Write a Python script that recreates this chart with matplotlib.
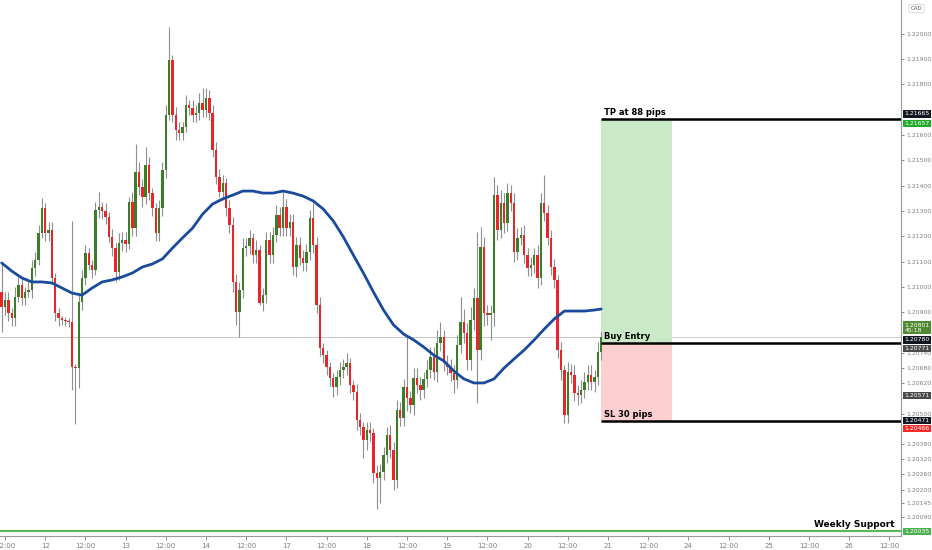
import numpy as np
import matplotlib
matplotlib.use("Agg")
import matplotlib.pyplot as plt
from matplotlib.patches import Rectangle

# hourly closes (first candle open = 1.20980)
first_open = 1.20980
closes = [
    1.20921, 1.20949, 1.20897, 1.20877, 1.20960, 1.21008, 1.20957, 1.20980, 1.20988, 1.21075,
    1.21107, 1.21213, 1.21312, 1.21213, 1.21225, 1.21036, 1.20897, 1.20877, 1.20870, 1.20866,
    1.20862, 1.20684, 1.20680, 1.20941, 1.21036, 1.21134, 1.21087, 1.21067, 1.21304, 1.21316,
    1.21300, 1.21277, 1.21198, 1.21154, 1.21059, 1.21174, 1.21186, 1.21170, 1.21336, 1.21233,
    1.21455, 1.21395, 1.21356, 1.21482, 1.21372, 1.21312, 1.21213, 1.21312, 1.21462, 1.21680,
    1.21897, 1.21680, 1.21621, 1.21609, 1.21632, 1.21719, 1.21708, 1.21680, 1.21688, 1.21727,
    1.21700, 1.21747, 1.21688, 1.21542, 1.21435, 1.21375, 1.21411, 1.21312, 1.21245, 1.21020,
    1.20901, 1.20988, 1.21154, 1.21162, 1.21194, 1.21126, 1.21146, 1.20937, 1.20968, 1.21186,
    1.21126, 1.21206, 1.21285, 1.21233, 1.21316, 1.21233, 1.21257, 1.21079, 1.21166, 1.21115,
    1.21095, 1.21138, 1.21273, 1.21166, 1.20929, 1.20759, 1.20731, 1.20684, 1.20640, 1.20605,
    1.20644, 1.20672, 1.20684, 1.20700, 1.20613, 1.20585, 1.20474, 1.20447, 1.20395, 1.20435,
    1.20423, 1.20265, 1.20245, 1.20269, 1.20336, 1.20415, 1.20356, 1.20237, 1.20514, 1.20482,
    1.20605, 1.20561, 1.20534, 1.20640, 1.20613, 1.20593, 1.20636, 1.20672, 1.20723, 1.20664,
    1.20779, 1.20802, 1.20700, 1.20684, 1.20660, 1.20632, 1.20771, 1.20862, 1.20818, 1.20711,
    1.20870, 1.20957, 1.20751, 1.21158, 1.20897, 1.20889, 1.20897, 1.21364, 1.21225, 1.21332,
    1.21253, 1.21372, 1.21332, 1.21138, 1.21194, 1.21206, 1.21126, 1.21075, 1.21087, 1.21126,
    1.21036, 1.21332, 1.21292, 1.21194, 1.21079, 1.21028, 1.20751, 1.20672, 1.20494, 1.20664,
    1.20652, 1.20581, 1.20573, 1.20593, 1.20625, 1.20652, 1.20625, 1.20644, 1.20743, 1.20801,
]
# wick lengths in pips above / below the body
upper_wick = [
    11, 3, 3, 2, 4, 3, 3, 2, 4, 3,
    3, 3, 4, 2, 3, 3, 2, 2, 1, 1,
    1, 40, 1, 3, 3, 3, 2, 2, 3, 6,
    2, 3, 2, 3, 2, 4, 3, 3, 2, 4,
    11, 4, 3, 7, 3, 2, 2, 3, 3, 4,
    13, 2, 3, 3, 2, 4, 2, 3, 3, 4,
    6, 4, 3, 3, 3, 3, 3, 2, 3, 3,
    3, 3, 4, 3, 3, 2, 4, 2, 3, 3,
    3, 3, 4, 3, 6, 3, 3, 3, 3, 3,
    3, 3, 3, 6, 3, 3, 2, 2, 2, 2,
    3, 3, 3, 4, 2, 2, 3, 3, 2, 3,
    3, 2, 3, 3, 3, 3, 4, 3, 4, 3,
    3, 20, 3, 4, 4, 3, 3, 4, 4, 4,
    5, 6, 3, 3, 3, 3, 4, 10, 5, 4,
    5, 4, 26, 8, 4, 3, 3, 7, 4, 5,
    4, 4, 3, 4, 4, 3, 4, 3, 3, 3,
    4, 4, 11, 3, 3, 3, 2, 3, 2, 4,
    3, 4, 3, 4, 4, 4, 4, 3, 4, 2,
]
lower_wick = [
    10, 3, 3, 3, 3, 2, 3, 3, 2, 3,
    3, 2, 2, 3, 3, 2, 3, 3, 2, 2,
    2, 9, 22, 8, 3, 3, 2, 3, 2, 3,
    3, 3, 2, 3, 4, 3, 3, 3, 2, 3,
    3, 3, 4, 3, 3, 3, 3, 3, 3, 3,
    2, 3, 4, 3, 3, 2, 3, 3, 3, 3,
    3, 3, 3, 3, 3, 2, 3, 3, 3, 4,
    5, 10, 3, 3, 3, 3, 3, 1, 3, 3,
    3, 3, 3, 3, 3, 3, 3, 3, 4, 3,
    3, 3, 3, 3, 3, 3, 3, 3, 3, 4,
    3, 3, 3, 3, 3, 3, 4, 3, 7, 4,
    3, 4, 12, 10, 3, 3, 3, 4, 3, 3,
    3, 5, 3, 4, 3, 4, 3, 3, 3, 3,
    4, 3, 3, 3, 3, 5, 3, 3, 4, 4,
    4, 4, 21, 4, 5, 4, 10, 5, 4, 3,
    4, 3, 3, 4, 3, 3, 3, 3, 3, 3,
    4, 3, 3, 3, 3, 3, 3, 4, 3, 3,
    3, 3, 4, 3, 3, 3, 3, 4, 3, 3,
]

# moving average, read every third candle
ma_candle = [0, 3, 6, 9, 12, 15, 18, 21, 24, 27, 30, 33, 36, 39, 42, 45, 48, 51, 54, 57,
             60, 63, 66, 69, 72, 75, 78, 81, 84, 87, 90, 93, 96, 99, 102, 105, 108, 111, 114, 117,
             120, 123, 126, 129, 132, 135, 138, 141, 144, 147, 150, 153, 156, 159, 162, 165, 168, 171, 174, 177, 179]
ma_values = [1.21095, 1.21063, 1.21036, 1.21020, 1.21020, 1.21016, 1.20996, 1.20976, 1.20968, 1.20996,
             1.21020, 1.21028, 1.21040, 1.21055, 1.21079, 1.21091, 1.21111, 1.21154, 1.21194, 1.21233,
             1.21288, 1.21328, 1.21348, 1.21363, 1.21379, 1.21379, 1.21371, 1.21371, 1.21379, 1.21371,
             1.21359, 1.21340, 1.21308, 1.21261, 1.21198, 1.21126, 1.21055, 1.20980, 1.20909, 1.20850,
             1.20814, 1.20791, 1.20763, 1.20731, 1.20708, 1.20668, 1.20637, 1.20621, 1.20621, 1.20637,
             1.20680, 1.20716, 1.20751, 1.20791, 1.20834, 1.20874, 1.20905, 1.20905, 1.20905, 1.20909, 1.20913]

# trade setup
take_profit = 1.21665
entry = 1.20780
stop_loss = 1.20471
weekly_support = 1.20035
last_price = 1.20801

xtick_labels = ["12:00", "12", "12:00", "13", "12:00", "14", "12:00", "17", "12:00", "18", "12:00", "19",
                "12:00", "20", "12:00", "21", "12:00", "24", "12:00", "25", "12:00", "26", "12:00"]
ytick_values = [1.22000, 1.21900, 1.21800, 1.21600, 1.21500, 1.21400, 1.21300, 1.21200, 1.21100,
                1.21000, 1.20900, 1.20740, 1.20680, 1.20620, 1.20500, 1.20380, 1.20320, 1.20260,
                1.20200, 1.20145, 1.20090]

# price tags on the right scale: (price, text, face colour, offset pt)
tags = [
    (1.21665, "1.21665", "#131722", 3.5),
    (1.21657, "1.21657", "#22ab2a", -2.0),
    (1.20801, "1.20801\n45:18", "#4f8a30", 7.0),
    (1.20780, "1.20780", "#131722", 2.0),
    (1.20771, "1.20771", "#4a4a4a", -2.5),
    (1.20571, "1.20571", "#4a4a4a", 0),
    (1.20471, "1.20471", "#131722", 0.5),
    (1.20466, "1.20466", "#f22a2a", -4.5),
    (1.20035, "1.20035", "#4caf50", 0),
]

closes = np.array(closes)
opens = np.concatenate([[first_open], closes[:-1]])
highs = np.maximum(opens, closes) + np.array(upper_wick) / 10000
lows = np.minimum(opens, closes) - np.array(lower_wick) / 10000
xs = np.arange(len(closes)) - 1

fig = plt.figure(figsize=(9.32, 5.5), dpi=100)
ax = fig.add_axes([0, 14 / 550, 901 / 932, 536 / 550])

green_c = "#3e7d28"
red_c = "#e8262a"
up = closes >= opens
ax.vlines(xs, lows, highs, color="#8f8f8f", lw=0.8, zorder=2)
body = np.abs(closes - opens)
body = np.where(body < 0.00004, 0.00004, body)
ax.bar(xs, body, bottom=np.minimum(opens, closes), width=0.72,
       color=np.where(up, green_c, red_c), edgecolor="none", zorder=3)

ax.plot(np.array(ma_candle) - 1, ma_values, color="#1a4a9c", lw=2, zorder=4, solid_capstyle="round")

# current price line
ax.axhline(last_price, color="#c8c8c8", lw=0.7, zorder=1)
# weekly support
ax.axhline(weekly_support, color="#5cb85c", lw=1.6, zorder=2)

# long position tool
x0, x1 = 178, 199.1
ax.add_patch(Rectangle((x0, entry), x1 - x0, take_profit - entry, facecolor="#c9e9c7", edgecolor="none", zorder=1))
ax.add_patch(Rectangle((x0, stop_loss), x1 - x0, entry - 0.00007 - stop_loss, facecolor="#fcd0d0", edgecolor="none", zorder=1))
for lvl in (take_profit, entry, stop_loss):
    ax.hlines(lvl, x0, 270, color="black", lw=1.8, zorder=5)

ax.text(x0 + 0.8, take_profit + 0.00008, "TP at 88 pips", fontsize=6, fontweight="bold", va="bottom", ha="left", zorder=6)
ax.text(x0 + 0.8, entry + 0.00008, "Buy Entry", fontsize=6, fontweight="bold", va="bottom", ha="left", zorder=6)
ax.text(x0 + 0.8, stop_loss + 0.00008, "SL 30 pips", fontsize=6, fontweight="bold", va="bottom", ha="left", zorder=6)
ax.text(265.5, weekly_support + 0.0001, "Weekly Support", fontsize=6.5, fontweight="bold", va="bottom", ha="right", zorder=6)

ax.set_xlim(-1.5, 267.5)
ax.set_ylim(1.200164, 1.221337)

ax.set_xticks(np.arange(len(xtick_labels)) * 12)
ax.set_xticklabels(xtick_labels)
ax.yaxis.tick_right()
ax.set_yticks(ytick_values)
ax.set_yticklabels(["%.5f" % v for v in ytick_values])
ax.tick_params(axis="x", labelsize=5, colors="#7c7f88", length=3, width=0.6, pad=2)
ax.tick_params(axis="y", labelsize=4.4, colors="#7c7f88", length=2.5, width=0.6, pad=1.5)

for s in ("left", "top"):
    ax.spines[s].set_visible(False)
for s in ("right", "bottom"):
    ax.spines[s].set_color("#9a9a9a")
    ax.spines[s].set_linewidth(0.8)

for price, txt, fc, off in tags:
    ax.annotate(txt, xy=(1.0, price), xycoords=("axes fraction", "data"),
                xytext=(2.6, off), textcoords="offset points", fontsize=4.4, color="white",
                va="center", ha="left", linespacing=1.05, annotation_clip=False, zorder=10,
                bbox=dict(boxstyle="square,pad=0.2", fc=fc, ec="none"))

ax.annotate("CAD", xy=(1.0, 1.2210), xycoords=("axes fraction", "data"), xytext=(7, 0),
            textcoords="offset points", fontsize=4, color="#555", va="center", ha="left",
            annotation_clip=False, bbox=dict(boxstyle="round,pad=0.3", fc="white", ec="#cccccc", lw=0.5))

fig.savefig("out.png", dpi=100)
